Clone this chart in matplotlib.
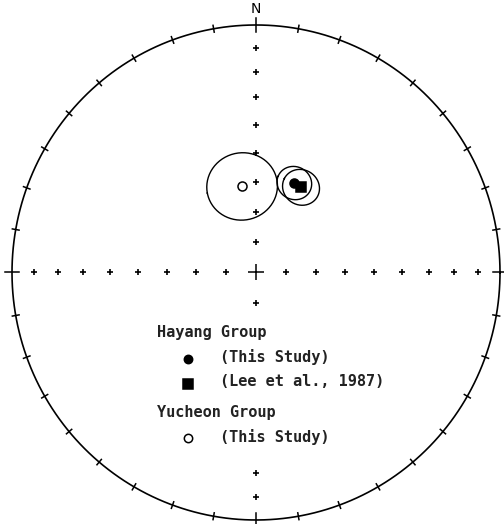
import numpy as np
import matplotlib
matplotlib.use("Agg")
from matplotlib import pyplot as plt
from matplotlib.patches import Rectangle

# mean directions (declination, inclination, alpha95) in degrees
groups = ["Hayang (This Study)", "Hayang (Lee et al., 1987)", "Yucheon (This Study)"]
dec = [23.5, 28.2, 350.7]
inc = [57.6, 57.9, 61.0]
a95 = [5.6, 6.0, 11.4]
markers = ["o", "s", "o"]
filled = [True, True, False]

legend_lines = ["Hayang Group", "(This Study)", "(Lee et al., 1987)",
                "Yucheon Group", "(This Study)"]


def eqarea(d, i):
    """Lambert equal-area projection of (dec, inc) onto a unit circle."""
    d = np.radians(d)
    r = np.sqrt(2) * np.sin(np.radians(90 - np.abs(i)) / 2)
    return r * np.sin(d), r * np.cos(d)


def cone(d, i, a, n=200):
    """Directions lying alpha95 away from the mean direction."""
    d, i, a = np.radians(d), np.radians(i), np.radians(a)
    m = np.array([np.cos(i) * np.cos(d), np.cos(i) * np.sin(d), np.sin(i)])
    u = np.cross(m, [0, 0, 1.0])
    u /= np.linalg.norm(u)
    w = np.cross(m, u)
    t = np.linspace(0, 2 * np.pi, n)
    v = (np.cos(a) * m[:, None] + np.sin(a) * (np.outer(u, np.cos(t)) + np.outer(w, np.sin(t))))
    dd = np.degrees(np.arctan2(v[1], v[0]))
    ii = np.degrees(np.arcsin(np.clip(v[2], -1, 1)))
    return eqarea(dd, ii)


fig = plt.figure(figsize=(5.04, 5.24), dpi=100)
ax = fig.add_axes([0, 0, 1, 1])
ax.set_xlim(-1.0492, 1.0164)
ax.set_ylim(-1.0162, 1.1010)
ax.axis("off")

# primitive circle
t = np.linspace(0, 2 * np.pi, 720)
ax.plot(np.cos(t), np.sin(t), color="black", lw=1.2)

# declination ticks every 10 degrees
for az in range(0, 360, 10):
    big = az % 90 == 0
    L = 0.028 if big else 0.014
    a = np.radians(az)
    ax.plot([(1 - L) * np.sin(a), (1 + L) * np.sin(a)],
             [(1 - L) * np.cos(a), (1 + L) * np.cos(a)], color="black", lw=1.1)
ax.text(0, 1.038, "N", ha="center", va="bottom", fontsize=10, family="DejaVu Sans")

# inclination marks every 10 degrees along N-S and E-W
for az in [0, 90, 180, 270]:
    for i in range(10, 90, 10):
        x, y = eqarea(az, i)
        ax.plot(x, y, marker="+", color="black", ms=4, mew=1.2)
ax.plot(0, 0, marker="+", color="black", ms=12, mew=1.1)

# white area behind the legend text
ax.add_patch(Rectangle((-0.45, -0.74), 0.95, 0.565, facecolor="white",
                       edgecolor="none", zorder=3))

# mean directions with alpha95 cones
for d, i, a, mk, f in zip(dec, inc, a95, markers, filled):
    cx, cy = cone(d, i, a)
    ax.plot(cx, cy, color="black", lw=1.0)
    x, y = eqarea(d, i)
    ax.plot(x, y, marker=mk, ms=6.5 if mk == "o" else 7,
            mfc="black" if f else "white", mec="black", mew=1.1, ls="none")

# legend
font = dict(family="DejaVu Sans Mono", fontsize=11, fontweight="bold",
            color="#222222", va="center", zorder=4)
W, H = 504, 524
text_x = [157, 220, 220, 157, 220]
text_y = [332, 357, 382, 412, 437]
for s, px, py in zip(legend_lines, text_x, text_y):
    ax.text(px / W, 1 - py / H, s, transform=ax.transAxes, **font)
sym_y = [359, 384, 438]
for (mk, f), py in zip(zip(markers, filled), sym_y):
    ax.plot(188 / W, 1 - py / H, marker=mk, transform=ax.transAxes,
            ms=6 if mk == "o" else 7, mfc="black" if f else "white",
            mec="black", mew=1.1, ls="none", zorder=4)

fig.savefig("out.png", dpi=100)
